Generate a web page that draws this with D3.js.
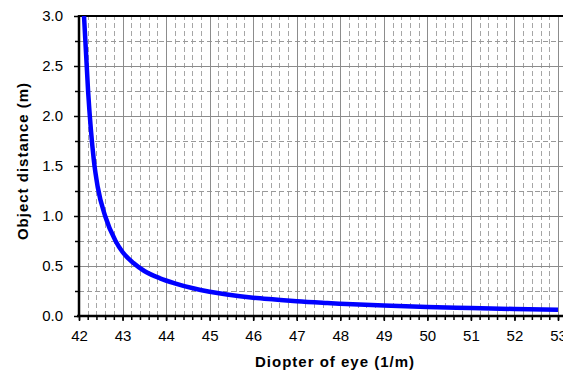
<!DOCTYPE html>
<html>
<head>
<meta charset="utf-8">
<script src="https://cdn.jsdelivr.net/npm/d3@7"></script>
<style>
  body { margin: 0; background: #fff; }
  text { font-family: "Liberation Sans", Arial, sans-serif; }
</style>
</head>
<body>
<div id="chart"></div>
<script>
// values
var diopter = [42.115, 42.21, 42.34, 42.43, 42.60, 42.84, 43.0, 43.25, 43.5, 43.86,
               44.2, 44.62, 45.0, 45.4, 46.0, 46.5, 47.0, 47.7, 48.0, 49.0,
               50.0, 51.0, 52.0, 53.0];
var distance = [3.0, 2.24, 1.56, 1.29, 1.0, 0.75, 0.64, 0.53, 0.45, 0.377,
                0.327, 0.277, 0.243, 0.215, 0.183, 0.165, 0.148, 0.13, 0.123, 0.105,
                0.09, 0.08, 0.07, 0.063];
var xTicks = [42, 43, 44, 45, 46, 47, 48, 49, 50, 51, 52, 53];
var yTicks = [0, 0.5, 1.0, 1.5, 2.0, 2.5, 3.0];

var width = 563, height = 375;
var margin = {top: 16, left: 79, right: 5, bottom: 59};

var svg = d3.select("#chart").append("svg")
  .attr("width", width)
  .attr("height", height);

var x = d3.scaleLinear().domain([42, 53]).range([margin.left, 558]);
var y = d3.scaleLinear().domain([0, 3]).range([height - margin.bottom, margin.top]);

var x0 = margin.left, x1 = width, y0 = y(0), y1 = y(3);

// minor grid
var xMinor = d3.range(42, 53.001, 0.2).filter(function(d){ return Math.abs(d - Math.round(d)) > 0.01; });
var yMinor = d3.range(0.25, 3, 0.5);

svg.append("g").selectAll("line")
  .data(xMinor).enter().append("line")
  .attr("x1", function(d){ return Math.round(x(d)) + 0.5; })
  .attr("x2", function(d){ return Math.round(x(d)) + 0.5; })
  .attr("y1", y0).attr("y2", y1)
  .attr("stroke", "#a6a6a6").attr("stroke-dasharray", "5,3");

svg.append("g").selectAll("line")
  .data(yMinor).enter().append("line")
  .attr("x1", x0).attr("x2", x1)
  .attr("y1", function(d){ return Math.round(y(d)) + 0.5; })
  .attr("y2", function(d){ return Math.round(y(d)) + 0.5; })
  .attr("stroke", "#999").attr("stroke-dasharray", "5,3");

// major grid
svg.append("g").selectAll("line")
  .data(xTicks.slice(1)).enter().append("line")
  .attr("x1", function(d){ return Math.round(x(d)) + 0.5; })
  .attr("x2", function(d){ return Math.round(x(d)) + 0.5; })
  .attr("y1", y0).attr("y2", y1)
  .attr("stroke", "#8c8c8c");

svg.append("g").selectAll("line")
  .data(yTicks.slice(1, -1)).enter().append("line")
  .attr("x1", x0).attr("x2", x1)
  .attr("y1", function(d){ return Math.round(y(d)) + 0.5; })
  .attr("y2", function(d){ return Math.round(y(d)) + 0.5; })
  .attr("stroke", "#8c8c8c");

// top border
svg.append("line")
  .attr("x1", x0).attr("x2", x1).attr("y1", y1).attr("y2", y1)
  .attr("stroke", "#000").attr("stroke-width", 2);

// curve
var pts = diopter.map(function(d, i){ return [d, distance[i]]; });
var line = d3.line()
  .x(function(d){ return x(d[0]); })
  .y(function(d){ return y(d[1]); })
  .curve(d3.curveMonotoneX);

svg.append("path")
  .datum(pts)
  .attr("d", line)
  .attr("fill", "none")
  .attr("stroke", "#0000ff")
  .attr("stroke-width", 4.5);

// x axis
var xAxis = svg.append("g").attr("transform", "translate(0," + y0 + ")");
xAxis.append("g")
  .call(d3.axisBottom(x).tickValues(d3.range(42, 53.001, 0.2)).tickSize(4).tickFormat(""))
  .call(function(g){ g.select(".domain").remove(); })
  .selectAll("line").attr("stroke-width", 1.5);
xAxis.append("g")
  .call(d3.axisBottom(x).tickValues(xTicks).tickSize(5).tickPadding(9).tickFormat(d3.format("d")))
  .call(function(g){ g.select(".domain").remove(); })
  .call(function(g){ g.selectAll("line").attr("stroke-width", 1.5); })
  .selectAll("text").attr("font-size", "15px").attr("fill", "#000")
  .style("font-family", "'Liberation Sans', Arial, sans-serif");
xAxis.append("line").attr("x1", x0 - 2).attr("x2", x1).attr("stroke", "#000").attr("stroke-width", 2.5);

// y axis
var yAxis = svg.append("g").attr("transform", "translate(" + x0 + ",0)");
yAxis.append("g")
  .call(d3.axisLeft(y).tickValues(yMinor).tickSize(4).tickFormat(""))
  .call(function(g){ g.select(".domain").remove(); })
  .selectAll("line").attr("stroke-width", 1.5);
yAxis.append("g")
  .call(d3.axisLeft(y).tickValues(yTicks).tickSize(5).tickPadding(11).tickFormat(d3.format(".1f")))
  .call(function(g){ g.select(".domain").remove(); })
  .call(function(g){ g.selectAll("line").attr("stroke-width", 1.5); })
  .selectAll("text").attr("font-size", "15px").attr("fill", "#000")
  .style("font-family", "'Liberation Sans', Arial, sans-serif");
yAxis.append("line").attr("y1", y1 - 1).attr("y2", y0 + 1).attr("stroke", "#000").attr("stroke-width", 2.5);

// titles
svg.append("text")
  .attr("x", 335).attr("y", 367)
  .attr("text-anchor", "middle")
  .attr("font-size", "15px").attr("font-weight", "bold")
  .attr("letter-spacing", "1px")
  .text("Diopter of eye (1/m)");

svg.append("text")
  .attr("transform", "translate(28,161) rotate(-90)")
  .attr("text-anchor", "middle")
  .attr("font-size", "15px").attr("font-weight", "bold")
  .attr("letter-spacing", "1px")
  .text("Object distance (m)");
</script>
</body>
</html>
